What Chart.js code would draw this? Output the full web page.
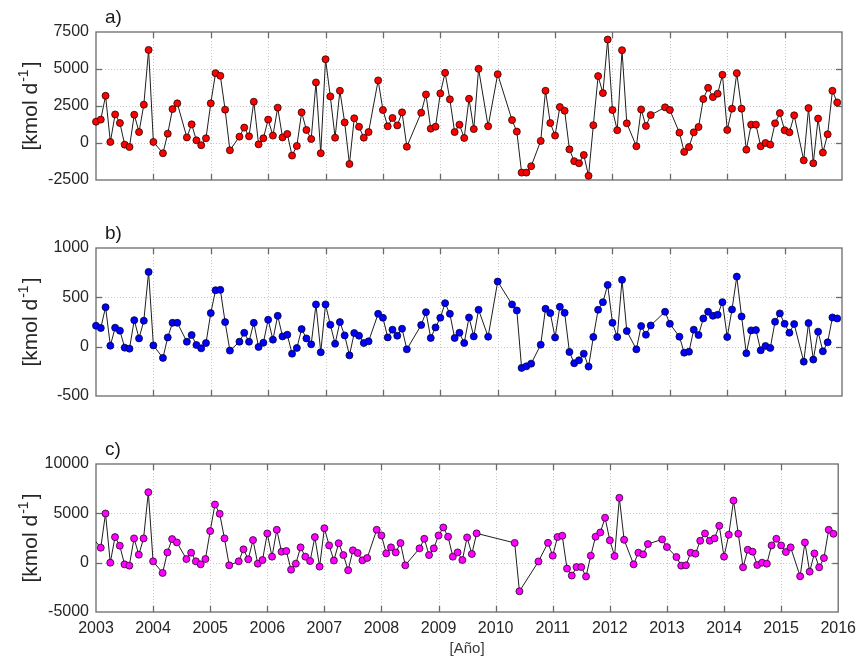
<!DOCTYPE html>
<html>
<head>
<meta charset="utf-8">
<title>Flujos mensuales 2003-2016</title>
<script src="https://cdn.jsdelivr.net/npm/chart.js@4/dist/chart.umd.min.js"></script>
<style>
  html, body { margin: 0; padding: 0; background: #fff; }
  #wrap { position: relative; width: 863px; height: 662px; overflow: hidden; }
  #wrap canvas { position: absolute; left: 0; }
</style>
</head>
<body>
<div id="wrap">
  <canvas id="panelA" width="863" height="200" style="top:0px"></canvas>
  <canvas id="panelB" width="863" height="220" style="top:200px"></canvas>
  <canvas id="panelC" width="863" height="242" style="top:420px"></canvas>
</div>
<script>
// ---- data -------------------------------------------------------------
const firstYear = 2003;
const yearTicks = [2003, 2004, 2005, 2006, 2007, 2008, 2009, 2010, 2011, 2012, 2013, 2014, 2015, 2016];

const ticksA = [-2500, 0, 2500, 5000, 7500];
const ticksB = [-500, 0, 500, 1000];
const ticksC = [-5000, 0, 5000, 10000];

// monthly values (kmol d-1), one row per year Jan..Dec; null = no sample
const fluxA = [
  [1440, 1580, 3190, 70, 1930, 1350, -110, -270, 1910, 740, 2590, 6290],
  [70, null, -690, 630, 2290, 2680, null, 380, 1260, 180, -150, 320],
  [2680, 4720, 4540, 2250, -490, null, 430, 1040, 450, 2790, -90, 320],
  [1580, 500, 2390, 380, 610, -850, -200, 2070, 880, 270, 4090, -690],
  [5660, 3150, 360, 3530, 1390, -1420, 1670, 1100, 360, 740, null, 4230],
  [2230, 1130, 1690, 1190, 2070, -250, null, null, 2050, 3280, 970, 1100],
  [3350, 4740, 2950, 740, 1240, 340, 2990, 940, 5010, null, 1130, null],
  [4650, null, null, 1550, 770, -2000, -2000, -1570, null, 140, 3530, 1350],
  [500, 2430, 2180, -430, -1230, -1370, -810, -2220, 1200, 4520, 3370, 6990],
  [2230, 860, 6270, 1330, null, -220, 2270, 1150, 1890, null, null, 2410],
  [2230, null, 700, -600, -270, 720, 1080, 2970, 3730, 3100, 3330, 4610],
  [880, 2320, 4720, 2320, -450, 1240, 1240, -220, 0, -110, 1330, 2020],
  [860, 720, 1870, null, -1170, 2360, -1370, 1650, -650, 590, 3530, 2740]
];

const fluxB = [
  [212, 189, 400, 10, 192, 162, -10, -20, 269, 84, 263, 758],
  [13, null, -114, 94, 242, 242, null, 50, 118, 17, -17, 37],
  [340, 572, 576, 249, -40, null, 50, 141, 50, 242, -3, 40],
  [273, 71, 313, 104, 121, -71, -13, 178, 84, 24, 428, -57],
  [428, 222, 30, 249, 114, -88, 138, 111, 37, 54, null, 333],
  [293, 94, 172, 111, 182, -27, null, null, 219, 350, 88, 195],
  [293, 441, 333, 88, 141, 37, 296, 104, 374, null, 101, null],
  [660, null, null, 428, 367, -215, -199, -172, null, 20, 384, 340],
  [94, 404, 343, -54, -168, -138, -71, -202, 98, 374, 451, 626],
  [242, 98, 677, 158, null, -27, 209, 121, 215, null, null, 354],
  [232, null, 101, -61, -51, 172, 118, 286, 354, 313, 323, 451],
  [98, 377, 710, 306, -67, 165, 168, -37, 7, -13, 253, 337],
  [232, 141, 229, null, -152, 239, -131, 152, -47, 44, 296, 286]
];

// December 2002, lies just left of the plotted window
const fluxCPrev = 2700;
const fluxC = [
  [null, 1515, 4980, 0, 2590, 1720, -170, -300, 2460, 810, 2460, 7140],
  [135, null, -1040, 1040, 2390, 2050, null, 370, 1010, 135, -170, 370],
  [3200, 5890, 4950, 2460, -270, null, 135, 1350, 340, 2290, -100, 270],
  [2960, 610, 3330, 1110, 1180, -710, -100, 1550, 610, 170, 2590, -400],
  [3490, 1750, 220, 1970, 770, -770, 1250, 980, 240, 470, null, 3330],
  [2760, 940, 1550, 1040, 1990, -270, null, null, 1450, 2420, 770, 1450],
  [2760, 3570, 2630, 610, 1040, 270, 2560, 880, 2970, null, null, null],
  [null, null, null, null, 2000, -2900, null, null, null, 120, null, 2010],
  [710, 2600, 2730, -600, -1310, -440, -450, -1400, 710, 2630, 3060, 4550],
  [2260, 670, 6570, 2320, null, -170, 1010, 840, 1890, null, null, 2360],
  [1580, null, 570, -300, -270, 1010, 910, 2220, 2960, 2220, 2460, 3740],
  [610, 2830, 6300, 2930, -470, 1310, 1110, -240, 0, -100, 1750, 2420],
  [1750, 1080, 1550, null, -1380, 2050, -910, 940, -470, 470, 3330, 2930]
];

// ---- helpers ----------------------------------------------------------
const FONT = '"Liberation Sans", Arial, Helvetica, sans-serif';
const TEXT = '#262626';

function toPoints(rows) {
  const pts = [];
  rows.forEach((row, yi) => row.forEach((v, m) => {
    pts.push({ x: firstYear + yi + m / 12, y: v });
  }));
  return pts;
}

// dotted grid, axes box with inward ticks, panel letter and unit label
const framePlugin = {
  id: 'frame',
  beforeDatasetsDraw(chart, args, opts) {
    const { ctx, chartArea: a, scales: { x, y } } = chart;
    const line = (x1, y1, x2, y2) => { ctx.beginPath(); ctx.moveTo(x1, y1); ctx.lineTo(x2, y2); ctx.stroke(); };
    ctx.save();
    ctx.strokeStyle = '#c8c8c8';
    ctx.lineWidth = 1;
    ctx.setLineDash([1, 2]);
    yearTicks.forEach(t => {
      if (t <= x.min || t >= x.max) return;
      const px = Math.round(x.getPixelForValue(t)) + 0.5;
      line(px, a.top, px, a.bottom);
    });
    opts.yTicks.forEach(t => {
      if (t <= y.min || t >= y.max) return;
      const py = Math.round(y.getPixelForValue(t)) + 0.5;
      line(a.left, py, a.right, py);
    });
    ctx.setLineDash([]);
    ctx.strokeStyle = '#6a6a6a';
    ctx.lineWidth = 1.3;
    const tl = 6;
    yearTicks.forEach(t => {
      if (t <= x.min || t >= x.max) return;
      const px = Math.round(x.getPixelForValue(t)) + 0.5;
      line(px, a.top, px, a.top + tl);
      line(px, a.bottom, px, a.bottom - tl);
    });
    opts.yTicks.forEach(t => {
      if (t <= y.min || t >= y.max) return;
      const py = Math.round(y.getPixelForValue(t)) + 0.5;
      line(a.left, py, a.left + tl, py);
      line(a.right, py, a.right - tl, py);
    });
    ctx.strokeRect(a.left, a.top, a.right - a.left, a.bottom - a.top);
    ctx.restore();
  },
  afterDraw(chart, args, opts) {
    const { ctx, chartArea: a } = chart;
    ctx.save();
    ctx.fillStyle = '#1a1a1a';
    ctx.font = '19px ' + FONT;
    ctx.textBaseline = 'alphabetic';
    ctx.textAlign = 'left';
    ctx.fillText(opts.letter, 105, a.top - 9);

    // rotated unit label "[kmol d-1]" with raised exponent
    const big = '21px ' + FONT, small = '14px ' + FONT;
    ctx.translate(30, (a.top + a.bottom) / 2);
    ctx.rotate(-Math.PI / 2);
    ctx.font = big;
    const w1 = ctx.measureText('[kmol d').width;
    const w3 = ctx.measureText(']').width;
    ctx.font = small;
    const w2 = ctx.measureText('-1').width;
    const x0 = -(w1 + w2 + w3 + 3) / 2;
    ctx.fillStyle = TEXT;
    ctx.textBaseline = 'middle';
    ctx.font = big;
    ctx.fillText('[kmol d', x0, 1);
    ctx.font = small;
    ctx.fillText('-1', x0 + w1 + 1, -6);
    ctx.font = big;
    ctx.fillText(']', x0 + w1 + w2 + 3, 1);
    ctx.restore();
  }
};

function makePanel(id, points, yTicks, fill, edge, letter, pad, isBottom, clip) {
  return new Chart(document.getElementById(id), {
    type: 'line',
    data: {
      datasets: [{
        data: points,
        borderColor: '#1e1e1e',
        borderWidth: 1,
        pointBackgroundColor: fill,
        pointBorderColor: edge,
        pointBorderWidth: 0.8,
        pointRadius: 3.5,
        pointHoverRadius: 3.5,
        spanGaps: true,
        tension: 0,
        fill: false,
        clip: clip
      }]
    },
    plugins: [framePlugin],
    options: {
      responsive: false,
      animation: false,
      devicePixelRatio: 1,
      events: [],
      layout: { padding: { left: 0, right: 21, top: pad[0], bottom: pad[1] } },
      plugins: {
        legend: { display: false },
        tooltip: { enabled: false },
        frame: { letter: letter, yTicks: yTicks }
      },
      scales: {
        x: {
          type: 'linear',
          min: firstYear,
          max: yearTicks[yearTicks.length - 1],
          display: isBottom,
          grid: { display: false, drawTicks: false },
          border: { display: false },
          afterBuildTicks: s => { s.ticks = yearTicks.map(v => ({ value: v })); },
          afterFit: s => { s.height = isBottom ? 50 : 0; },
          ticks: {
            autoSkip: false,
            maxRotation: 0,
            padding: 7,
            color: TEXT,
            font: { family: FONT, size: 16 },
            callback: v => String(v)
          },
          title: {
            display: isBottom,
            text: '[Año]',
            color: '#3a3a3a',
            font: { family: FONT, size: 15 },
            padding: { top: 0, bottom: 4 }
          }
        },
        y: {
          min: yTicks[0],
          max: yTicks[yTicks.length - 1],
          grid: { display: false, drawTicks: false },
          border: { display: false },
          afterBuildTicks: s => { s.ticks = yTicks.map(v => ({ value: v })); },
          afterFit: s => { s.width = 96; },
          ticks: {
            padding: 7,
            color: TEXT,
            font: { family: FONT, size: 16 },
            callback: v => String(v)
          }
        }
      }
    }
  });
}

const pointsA = toPoints(fluxA);
const pointsB = toPoints(fluxB);
const pointsC = [{ x: firstYear - 1 / 12, y: fluxCPrev }].concat(toPoints(fluxC));

makePanel('panelA', pointsA, ticksA, '#ff0000', '#2a0000', 'a)', [32, 20], false, false);
makePanel('panelB', pointsB, ticksB, '#0000ff', '#000040', 'b)', [48, 24], false, false);
makePanel('panelC', pointsC, ticksC, '#ff00ff', '#2a002a', 'c)', [44, 0], true,
  { left: 0, right: 10, top: 10, bottom: 10 });
</script>
</body>
</html>
